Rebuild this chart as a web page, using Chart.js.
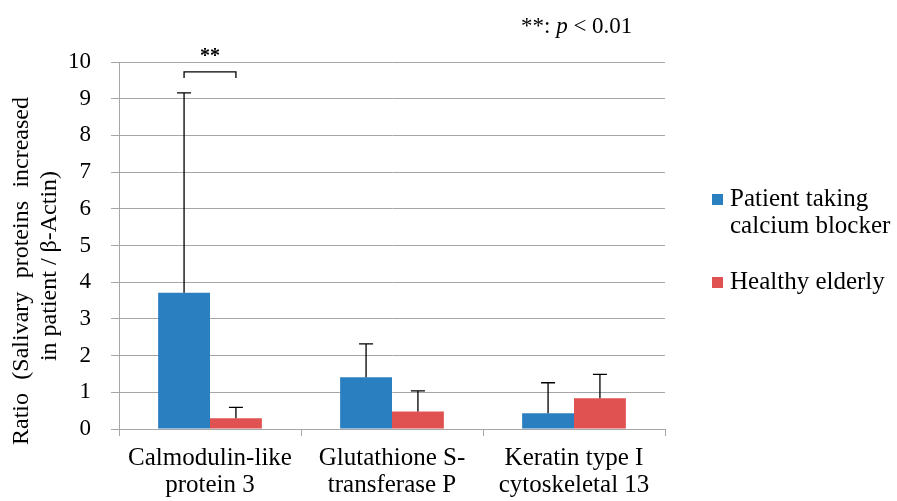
<!DOCTYPE html>
<html>
<head>
<meta charset="utf-8">
<script src="https://cdn.jsdelivr.net/npm/chart.js@4"></script>
<style>
  html, body { margin: 0; padding: 0; background: #fff; }
  #wrap { width: 897px; height: 501px; position: relative; }
</style>
</head>
<body>
<div id="wrap"><canvas id="ratioChart"></canvas></div>
<script>
// data
const categories = [
    ['Calmodulin-like', 'protein 3'],
    ['Glutathione S-', 'transferase P'],
    ['Keratin type I', 'cytoskeletal 13']
];
const patientValues = [3.71, 1.41, 0.43];
const patientErrors = [5.45, 0.91, 0.83];
const healthyValues = [0.29, 0.48, 0.84];
const healthyErrors = [0.30, 0.56, 0.65];
const seriesNames = [['Patient taking', 'calcium blocker'], ['Healthy elderly']];
const yTitle = ['Ratio (Salivary proteins increased', 'in patient / β-Actin)'];
const yMin = 0, yMax = 10, yStep = 1;
const sigCategory = 0, sigLevel = 9.73, sigText = '**';

const BLUE = '#2a7fc0';
const RED = '#e05252';
const GRID = '#a6a6a6';
const SERIF = '"Liberation Serif", "DejaVu Serif", serif';

// error bars + significance bracket + legend + notes
const extras = {
    id: 'extras',
    afterDatasetsDraw(chart) {
        const c = chart.ctx, y = chart.scales.y;
        c.save();
        c.strokeStyle = '#000';
        c.lineWidth = 1.3;
        chart.data.datasets.forEach((ds, i) => {
            chart.getDatasetMeta(i).data.forEach((bar, j) => {
                const top = y.getPixelForValue(ds.data[j] + ds.errors[j]);
                c.beginPath();
                c.moveTo(bar.x, bar.y);
                c.lineTo(bar.x, top);
                c.moveTo(bar.x - 7, top);
                c.lineTo(bar.x + 7, top);
                c.stroke();
            });
        });

        // bracket
        const a = chart.getDatasetMeta(0).data[sigCategory].x;
        const b = chart.getDatasetMeta(1).data[sigCategory].x;
        const yb = y.getPixelForValue(sigLevel);
        c.beginPath();
        c.moveTo(a, yb + 6);
        c.lineTo(a, yb);
        c.lineTo(b, yb);
        c.lineTo(b, yb + 6);
        c.stroke();
        c.fillStyle = '#000';
        c.font = 'bold 20px ' + SERIF;
        c.textAlign = 'center';
        c.textBaseline = 'middle';
        c.fillText(sigText, (a + b) / 2, yb - 15);
        c.restore();
    },
    afterDraw(chart) {
        const c = chart.ctx;
        c.save();
        c.fillStyle = '#000';
        c.textBaseline = 'middle';

        // legend
        const colors = [BLUE, RED];
        const legendTops = [199, 282];
        c.font = '25px ' + SERIF;
        c.textAlign = 'left';
        seriesNames.forEach((lines, i) => {
            c.fillStyle = colors[i];
            c.fillRect(712, legendTops[i] - 5, 11, 11);
            c.fillStyle = '#000';
            lines.forEach((t, k) => c.fillText(t, 730, legendTops[i] + k * 27));
        });

        // p-value note
        c.font = '23px ' + SERIF;
        let x = 521;
        c.fillText('**: ', x, 27);
        x += c.measureText('**: ').width;
        c.font = 'italic 23px ' + SERIF;
        c.fillText('p', x, 27);
        x += c.measureText('p ').width;
        c.font = '23px ' + SERIF;
        c.fillText('< 0.01', x, 27);

        // y title, first line justified
        c.rotate(-Math.PI / 2);
        c.font = '24px ' + SERIF;
        const words = yTitle[0].split(' ');
        const len = 348, mid1 = 271;
        const wordsW = words.reduce((s, w) => s + c.measureText(w).width, 0);
        const gap = (len - wordsW) / (words.length - 1);
        let pos = -(mid1 + len / 2);
        c.textAlign = 'left';
        words.forEach(w => {
            c.fillText(w, pos, 22);
            pos += c.measureText(w).width + gap;
        });
        c.textAlign = 'center';
        c.fillText(yTitle[1], -266, 50);
        c.restore();
    }
};

const ctx = document.getElementById('ratioChart').getContext('2d');
const ratioChart = new Chart(ctx, {
    type: 'bar',
    data: {
        labels: categories,
        datasets: [
            { label: seriesNames[0].join(' '), data: patientValues, errors: patientErrors, backgroundColor: BLUE },
            { label: seriesNames[1].join(' '), data: healthyValues, errors: healthyErrors, backgroundColor: RED }
        ]
    },
    options: {
        responsive: true,
        maintainAspectRatio: false,
        animation: false,
        datasets: { bar: { categoryPercentage: 0.57, barPercentage: 1.0 } },
        layout: { padding: { left: 0, right: 232, top: 62, bottom: 0 } },
        scales: {
            x: {
                afterFit: s => { s.height = 72; },
                grid: { drawOnChartArea: false, color: GRID, tickLength: 7, offset: true },
                border: { color: GRID },
                ticks: { color: '#000', font: { family: SERIF, size: 25, lineHeight: 1.08 }, padding: 9, maxRotation: 0 }
            },
            y: {
                min: yMin, max: yMax,
                afterFit: s => { s.width = 119; },
                grid: { color: GRID, tickLength: 8 },
                border: { color: GRID },
                ticks: { stepSize: yStep, color: '#000', font: { family: SERIF, size: 23 }, padding: 20 }
            }
        },
        plugins: { legend: { display: false }, tooltip: { enabled: false } }
    },
    plugins: [extras]
});
</script>
</body>
</html>
